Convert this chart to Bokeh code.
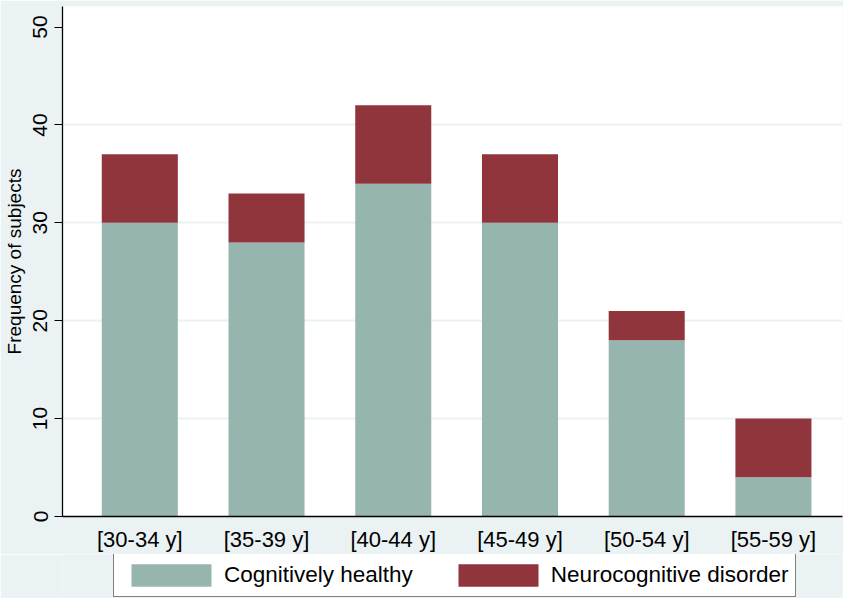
from bokeh.plotting import figure
from bokeh.models import (ColumnDataSource, Range1d, FixedTicker, Legend, LegendItem)
from bokeh.layouts import column
from bokeh.embed import file_html
from bokeh.resources import INLINE

categories = ["[30-34 y]", "[35-39 y]", "[40-44 y]", "[45-49 y]", "[50-54 y]", "[55-59 y]"]
healthy = [30, 28, 34, 30, 18, 4]
ncd = [7, 5, 8, 7, 3, 6]
series_names = ["Cognitively healthy", "Neurocognitive disorder"]
y_ticks = [0, 10, 20, 30, 40, 50]

BG = "#EAF2F3"
C_HEALTHY = "#97B5AF"
C_NCD = "#8F353B"
COLORS = [C_HEALTHY, C_NCD]
FONT = "Liberation Sans"

xs = list(range(len(categories)))
source = ColumnDataSource(dict(x=xs, healthy=healthy, ncd=ncd))

p = figure(width=843, height=554, output_backend="svg", toolbar_location=None,
           x_range=Range1d(-0.61, 5.545), y_range=Range1d(0, 52.1),
           min_border_top=6, min_border_right=1, min_border_left=10, min_border_bottom=30)

renderers = p.vbar_stack(["healthy", "ncd"], x="x", width=0.6, source=source,
                         fill_color=COLORS, line_color=None)

p.background_fill_color = "white"
p.border_fill_color = BG
p.outline_line_color = None

# x axis
xa = p.xaxis[0]
xa.ticker = FixedTicker(ticks=xs)
xa.major_label_overrides = {i: c for i, c in zip(xs, categories)}
xa.major_tick_out = 0
xa.major_tick_in = 0
xa.minor_tick_out = 0
xa.minor_tick_in = 0
xa.axis_line_color = "black"
xa.axis_line_width = 1.3
xa.major_label_text_font = FONT
xa.major_label_text_font_size = "22px"
xa.major_label_text_color = "black"
xa.major_label_standoff = 10

# y axis
ya = p.yaxis[0]
ya.ticker = FixedTicker(ticks=y_ticks)
ya.major_tick_out = 8
ya.major_tick_in = 0
ya.minor_tick_out = 0
ya.minor_tick_in = 0
ya.major_tick_line_color = "black"
ya.axis_line_color = "black"
ya.axis_line_width = 1.3
ya.major_label_orientation = "vertical"
ya.major_label_text_font = FONT
ya.major_label_text_font_size = "21px"
ya.major_label_text_color = "black"
ya.major_label_standoff = 7
ya.axis_label = "Frequency of subjects"
ya.axis_label_text_font = FONT
ya.axis_label_text_font_size = "19px"
ya.axis_label_text_font_style = "normal"
ya.axis_label_text_color = "black"
ya.axis_label_standoff = 6

p.xgrid.grid_line_color = None
p.ygrid.ticker = FixedTicker(ticks=y_ticks[1:-1])
p.ygrid.grid_line_color = BG
p.ygrid.grid_line_width = 2

# legend strip
lg = figure(width=843, height=44, output_backend="svg", toolbar_location=None,
            x_range=Range1d(0, 1), y_range=Range1d(0, 1),
            min_border=0, min_border_left=0, min_border_right=0,
            min_border_top=0, min_border_bottom=0)
lg.axis.visible = False
lg.grid.visible = False
lg.outline_line_color = None
lg.background_fill_color = BG
lg.border_fill_color = BG

keys = ["healthy", "ncd"]
proxies = []
for k, c in zip(keys, COLORS):
    r = lg.vbar(x="x", top=k, width=0.6, source=source, fill_color=c, line_color=None)
    r.visible = False
    proxies.append(r)
items = [LegendItem(label=series_names[i], renderers=[proxies[i]]) for i in range(2)]
legend = Legend(items=items, orientation="horizontal", location=(51, 1),
                border_line_color="black", border_line_width=1.2,
                background_fill_color="white", background_fill_alpha=1,
                inactive_fill_alpha=0,
                padding=7, spacing=35, glyph_width=100, glyph_height=28,
                label_standoff=3, label_text_font=FONT, label_text_font_size="22.5px",
                label_text_color="black", margin=0)
lg.add_layout(legend)

layout = column(p, lg, spacing=0)
open("out.html", "w").write(file_html(layout, INLINE))
